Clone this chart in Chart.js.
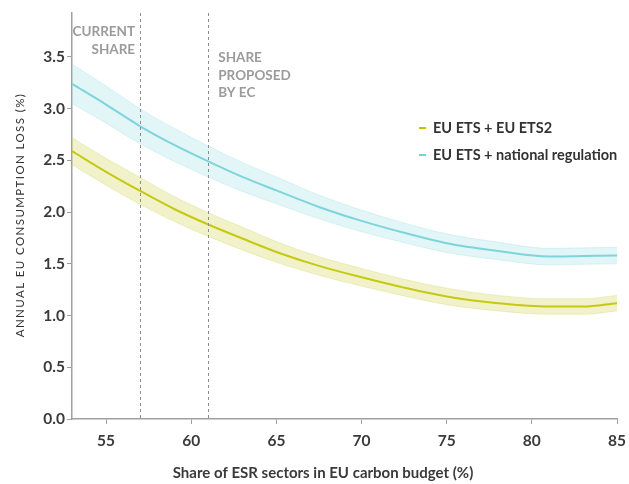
<!DOCTYPE html>
<html>
<head>
<meta charset="utf-8">
<script src="https://cdn.jsdelivr.net/npm/chart.js@4"></script>
<style>
  html, body { margin: 0; padding: 0; background: #fff; }
  #wrap { width: 629px; height: 484px; position: relative; }
</style>
</head>
<body>
<div id="wrap"><canvas id="c"></canvas></div>
<script>
// Share of ESR sectors in the EU carbon budget (%)
const shares = [53, 55, 57, 59, 61, 63, 65, 67.5, 70, 72.5, 75, 78, 81, 83, 85];

// EU ETS + EU ETS2: central estimate and uncertainty band
const etsEts2 = [2.59, 2.39, 2.205, 2.03, 1.88, 1.745, 1.615, 1.48, 1.37, 1.27, 1.185, 1.12, 1.087, 1.087, 1.12];
const etsEts2Low = [2.46, 2.26, 2.075, 1.91, 1.765, 1.635, 1.515, 1.39, 1.285, 1.19, 1.105, 1.045, 1.012, 1.012, 1.045];
const etsEts2High = [2.72, 2.52, 2.335, 2.15, 1.995, 1.855, 1.715, 1.57, 1.455, 1.35, 1.265, 1.195, 1.162, 1.162, 1.195];

// EU ETS + national regulation: central estimate and uncertainty band
const etsNational = [3.24, 3.04, 2.83, 2.65, 2.49, 2.34, 2.21, 2.05, 1.915, 1.80, 1.70, 1.625, 1.57, 1.575, 1.58];
const etsNationalLow = [3.05, 2.86, 2.66, 2.49, 2.34, 2.20, 2.08, 1.935, 1.81, 1.705, 1.61, 1.54, 1.49, 1.495, 1.50];
const etsNationalHigh = [3.43, 3.22, 3.00, 2.81, 2.64, 2.48, 2.34, 2.165, 2.02, 1.895, 1.79, 1.71, 1.65, 1.655, 1.66];

const xTicks = [55, 60, 65, 70, 75, 80, 85];
const yTicks = [0, 0.5, 1.0, 1.5, 2.0, 2.5, 3.0, 3.5];

// Reference shares marked with dashed lines
const markers = [
  { share: 57, lines: ['CURRENT', 'SHARE'], side: 'left' },
  { share: 61, lines: ['SHARE', 'PROPOSED', 'BY EC'], side: 'right' }
];

const seriesLabels = ['EU ETS + EU ETS2', 'EU ETS + national regulation'];
const yTitle = 'ANNUAL EU CONSUMPTION LOSS (%)';
const xTitle = 'Share of ESR sectors in EU carbon budget (%)';

const GREEN = '#c2c600';
const GREEN_BAND = 'rgba(205, 210, 60, 0.28)';
const GREEN_EDGE = 'rgba(200, 205, 60, 0.25)';
const CYAN = '#74d3d8';
const CYAN_BAND = 'rgba(150, 220, 225, 0.28)';
const CYAN_EDGE = 'rgba(140, 215, 220, 0.25)';
const FONT = 'Lato, "Noto Sans", sans-serif';

const pts = vals => shares.map((s, i) => ({ x: s, y: vals[i] }));

const bandStyle = { borderWidth: 1, pointRadius: 0, cubicInterpolationMode: 'monotone' };
const lineStyle = { borderWidth: 2, pointRadius: 0, cubicInterpolationMode: 'monotone', fill: false };

const overlay = {
  id: 'overlay',
  afterDatasetsDraw(chart) {
    const { ctx, chartArea: a, scales: { x, y } } = chart;
    ctx.save();
    // dashed reference lines
    ctx.strokeStyle = '#8c8c8c';
    ctx.lineWidth = 1;
    ctx.setLineDash([3, 3]);
    markers.forEach(m => {
      const px = Math.round(x.getPixelForValue(m.share)) + 0.5;
      ctx.beginPath();
      ctx.moveTo(px, a.top);
      ctx.lineTo(px, a.bottom);
      ctx.stroke();
    });
    ctx.setLineDash([]);
    // marker labels
    ctx.fillStyle = '#9b9b9b';
    ctx.font = 'bold 13.5px ' + FONT;
    ctx.textBaseline = 'middle';
    markers.forEach((m, k) => {
      const px = x.getPixelForValue(m.share);
      const top = k === 0 ? 32 : 58;
      ctx.textAlign = m.side === 'left' ? 'right' : 'left';
      const tx = m.side === 'left' ? px - 5 : px + 10;
      m.lines.forEach((t, i) => ctx.fillText(t, tx, top + i * 17.3));
    });
    // legend
    const colors = [GREEN, CYAN];
    ctx.font = 'bold 14.5px ' + FONT;
    ctx.textAlign = 'left';
    seriesLabels.forEach((lab, i) => {
      const cy = 128 + i * 27;
      ctx.fillStyle = colors[i];
      ctx.fillRect(419, cy - 1, 7, 2);
      ctx.fillStyle = '#333';
      ctx.fillText(lab, 433, cy);
    });
    // axis titles
    ctx.fillStyle = '#3a3a3a';
    ctx.font = 'bold 15px ' + FONT;
    ctx.textAlign = 'center';
    ctx.fillText(xTitle, 323, 473);
    ctx.save();
    ctx.translate(20.5, 215);
    ctx.rotate(-Math.PI / 2);
    ctx.font = '11.5px ' + FONT;
    ctx.letterSpacing = '1.4px';
    ctx.fillStyle = '#333';
    ctx.fillText(yTitle, 0, 0);
    ctx.restore();
    ctx.restore();
  }
};

new Chart(document.getElementById('c'), {
  type: 'line',
  data: {
    datasets: [
      { label: 'nat-low', data: pts(etsNationalLow), ...bandStyle, borderColor: CYAN_EDGE, fill: false },
      { label: 'nat-high', data: pts(etsNationalHigh), ...bandStyle, borderColor: CYAN_EDGE, fill: '-1', backgroundColor: CYAN_BAND },
      { label: seriesLabels[1], data: pts(etsNational), ...lineStyle, borderColor: CYAN },
      { label: 'ets2-low', data: pts(etsEts2Low), ...bandStyle, borderColor: GREEN_EDGE, fill: false },
      { label: 'ets2-high', data: pts(etsEts2High), ...bandStyle, borderColor: GREEN_EDGE, fill: '-1', backgroundColor: GREEN_BAND },
      { label: seriesLabels[0], data: pts(etsEts2), ...lineStyle, borderColor: GREEN }
    ]
  },
  options: {
    responsive: true,
    maintainAspectRatio: false,
    animation: false,
    layout: { padding: { left: 0, right: 12, top: 13, bottom: 0 } },
    plugins: { legend: { display: false }, tooltip: { enabled: false } },
    scales: {
      x: {
        type: 'linear',
        min: 53,
        max: 85,
        afterBuildTicks: s => { s.ticks = xTicks.map(v => ({ value: v })); },
        afterFit: s => { s.height = 65; s.paddingLeft = 0; s.paddingRight = 0; },
        border: { display: true, color: '#a0a0a0', width: 1.5 },
        grid: { drawOnChartArea: false, drawTicks: true, tickLength: 5, color: '#a0a0a0' },
        ticks: { color: '#3a3a3a', font: { family: FONT, size: 15.5, weight: 'bold' }, padding: 8, maxRotation: 0 }
      },
      y: {
        min: 0,
        max: 3.925,
        afterBuildTicks: s => { s.ticks = yTicks.map(v => ({ value: v })); },
        afterFit: s => { s.width = 72; s.paddingTop = 0; s.paddingBottom = 0; },
        border: { display: true, color: '#a0a0a0', width: 1.5 },
        grid: { drawOnChartArea: false, drawTicks: true, tickLength: 5, color: '#a0a0a0' },
        ticks: { color: '#3a3a3a', font: { family: FONT, size: 15.5, weight: 'bold' }, padding: 2,
                 callback: v => Number(v).toFixed(1) }
      }
    }
  },
  plugins: [overlay]
});
</script>
</body>
</html>
